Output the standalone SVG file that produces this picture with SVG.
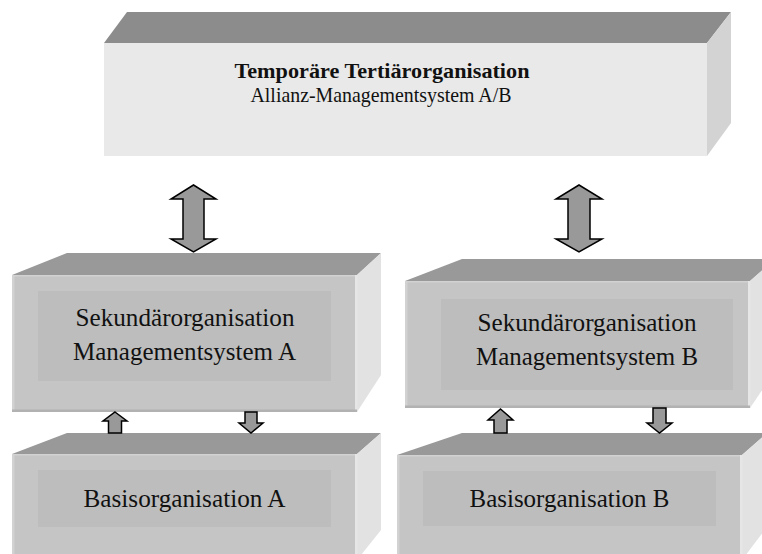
<svg xmlns="http://www.w3.org/2000/svg" width="762" height="554" viewBox="0 0 762 554">
  <style>
    .lbl { font-family: "Liberation Serif", "Times New Roman", serif; fill: #111; text-anchor: middle; }
    .big { font-size: 26px; }
    .top-lbl { font-size: 21.5px; }
    .bold { font-weight: bold; font-size: 22px; }
    .t-front { fill: #e9e9e9; }
    .t-top { fill: #8c8c8c; }
    .t-side { fill: #d3d3d3; }
    .front { fill: #c5c5c5; }
    .inner { fill: #bdbdbd; }
    .top { fill: #999999; }
    .side { fill: #e2e2e2; }
    .hi { fill: #d2d2d2; }
    .edge-r { fill: #e6e6e6; }
    .shade { fill: #b2b2b2; }
    .arrow { fill: #999999; stroke: #000; stroke-width: 1.5; stroke-linejoin: miter; }
  </style>

  <rect width="762" height="554" fill="#ffffff"/>

  <!-- Tertiary organisation (top block) -->
  <g id="tertiaer">
    <polygon class="t-top" points="104,43 127,12 731,12 707,43"/>
    <polygon class="t-side" points="707,43 731,12 731,123 707,156"/>
    <rect class="t-front" x="104" y="43" width="603" height="113"/>
    <text class="lbl bold" x="382" y="78" textLength="295" lengthAdjust="spacingAndGlyphs">Temporäre Tertiärorganisation</text>
    <text class="lbl top-lbl" x="381" y="102" textLength="261" lengthAdjust="spacingAndGlyphs">Allianz-Managementsystem A/B</text>
  </g>

  <!-- Secondary organisation A -->
  <g id="sekundaer-a">
    <polygon class="top" points="12,275 67,253 381,253 357,275"/>
    <polygon class="side" points="357,275 381,253 381,375 357,412"/>
    <rect class="front" x="12" y="275" width="345" height="137"/>
    <rect class="hi" x="12" y="275" width="345" height="1.5"/>
    <rect class="hi" x="12" y="275" width="2.5" height="137"/>
    <rect class="edge-r" x="355" y="275" width="2.5" height="137"/>
    <rect class="shade" x="12" y="409.5" width="345" height="2.5"/>
    <rect class="inner" x="38" y="291" width="293" height="90"/>
    <text class="lbl big" x="185" y="326" textLength="219" lengthAdjust="spacingAndGlyphs">Sekundärorganisation</text>
    <text class="lbl big" x="184.5" y="360" textLength="223" lengthAdjust="spacingAndGlyphs">Managementsystem A</text>
  </g>

  <!-- Secondary organisation B -->
  <g id="sekundaer-b">
    <polygon class="top" points="405,281 462,259 775,259 750,281"/>
    <polygon class="side" points="750,281 775,259 775,371 750,408"/>
    <rect class="front" x="405" y="281" width="345" height="127"/>
    <rect class="hi" x="405" y="281" width="345" height="1.5"/>
    <rect class="hi" x="405" y="281" width="2.5" height="127"/>
    <rect class="edge-r" x="748" y="281" width="2.5" height="127"/>
    <rect class="shade" x="405" y="405.5" width="345" height="2.5"/>
    <rect class="inner" x="441" y="299" width="292" height="91"/>
    <text class="lbl big" x="587" y="331" textLength="219" lengthAdjust="spacingAndGlyphs">Sekundärorganisation</text>
    <text class="lbl big" x="587" y="365" textLength="222" lengthAdjust="spacingAndGlyphs">Managementsystem B</text>
  </g>

  <!-- Base organisation A -->
  <g id="basis-a">
    <polygon class="top" points="12,454 67,433 381,433 357,454"/>
    <polygon class="side" points="357,454 381,433 381,530 357,560"/>
    <rect class="front" x="12" y="454" width="345" height="100"/>
    <rect class="hi" x="12" y="454" width="345" height="1.5"/>
    <rect class="hi" x="12" y="454" width="2.5" height="100"/>
    <rect class="edge-r" x="355" y="454" width="2.5" height="100"/>
    <rect class="inner" x="38" y="470" width="293" height="57"/>
    <text class="lbl big" x="184.5" y="507" textLength="202" lengthAdjust="spacingAndGlyphs">Basisorganisation A</text>
  </g>

  <!-- Base organisation B -->
  <g id="basis-b">
    <polygon class="top" points="397,455 462,433 767,433 742,455"/>
    <polygon class="side" points="742,455 767,433 767,527 742,560"/>
    <rect class="front" x="397" y="455" width="345" height="99"/>
    <rect class="hi" x="397" y="455" width="345" height="1.5"/>
    <rect class="hi" x="397" y="455" width="2.5" height="99"/>
    <rect class="edge-r" x="740" y="455" width="2.5" height="99"/>
    <rect class="inner" x="423" y="471" width="293" height="55"/>
    <text class="lbl big" x="569.5" y="507" textLength="200" lengthAdjust="spacingAndGlyphs">Basisorganisation B</text>
  </g>

  <!-- Connectors: block arrows between the levels -->
  <g id="connectors">
    <!-- tertiary <-> secondary A -->
    <polygon class="arrow" points="193.5,185 216,199 204,199 204,239 216,239 193.5,252 171,239 183,239 183,199 171,199"/>
    <!-- tertiary <-> secondary B -->
    <polygon class="arrow" points="579,185 602,199 590,199 590,239 602,239 579,252 556,239 568,239 568,199 556,199"/>
    <!-- base A -> secondary A -->
    <polygon class="arrow" points="115,412 127,421 121.5,421 121.5,433 108.5,433 108.5,421 103,421"/>
    <!-- secondary A -> base A -->
    <polygon class="arrow" points="245,412 257,412 257,423 263,423 251,433 239,423 245,423"/>
    <!-- base B -> secondary B -->
    <polygon class="arrow" points="500.5,409 513,420 507,420 507,433 494,433 494,420 488,420"/>
    <!-- secondary B -> base B -->
    <polygon class="arrow" points="653,408 666,408 666,423 672,423 659.5,433 647,423 653,423"/>
  </g>
</svg>
